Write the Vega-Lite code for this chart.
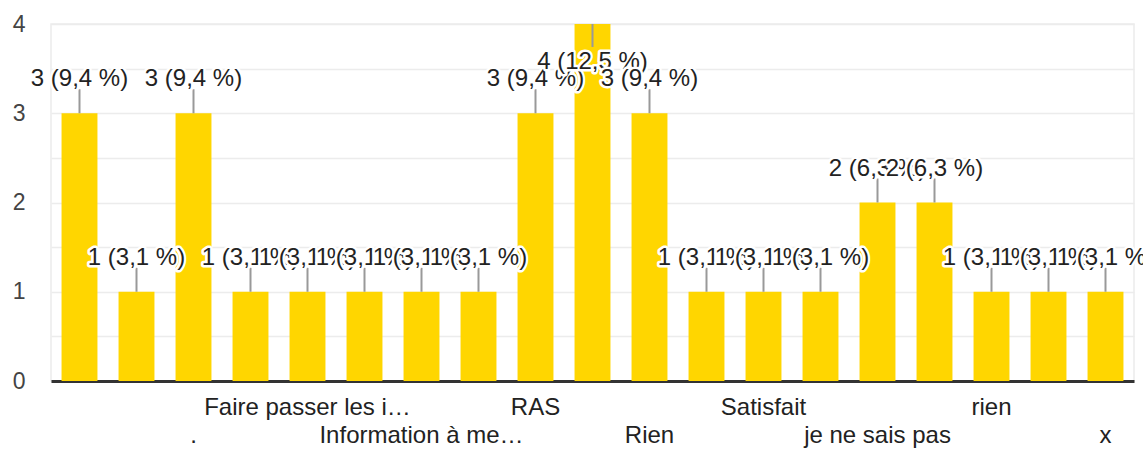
{
  "$schema": "https://vega.github.io/schema/vega-lite/v6.json",
  "width": 1083,
  "height": 357,
  "autosize": {"type": "none"},
  "padding": {"left": 51, "top": 24, "right": 9, "bottom": 74},
  "config": {
    "view": {"stroke": "#ebebeb", "strokeWidth": 1.5},
    "font": "Liberation Sans"
  },
  "data": {
    "values": [
      {"n": 1, "answer": "", "value": 3, "annot": "3 (9,4 %)"},
      {"n": 2, "answer": "", "value": 1, "annot": "1 (3,1 %)"},
      {"n": 3, "answer": ".", "value": 3, "annot": "3 (9,4 %)"},
      {"n": 4, "answer": "", "value": 1, "annot": "1 (3,1 %)"},
      {"n": 5, "answer": "Faire passer les i…", "value": 1, "annot": "1 (3,1 %)"},
      {"n": 6, "answer": "", "value": 1, "annot": "1 (3,1 %)"},
      {"n": 7, "answer": "Information à me…", "value": 1, "annot": "1 (3,1 %)"},
      {"n": 8, "answer": "", "value": 1, "annot": "1 (3,1 %)"},
      {"n": 9, "answer": "RAS", "value": 3, "annot": "3 (9,4 %)"},
      {"n": 10, "answer": "", "value": 4, "annot": "4 (12,5 %)"},
      {"n": 11, "answer": "Rien", "value": 3, "annot": "3 (9,4 %)"},
      {"n": 12, "answer": "", "value": 1, "annot": "1 (3,1 %)"},
      {"n": 13, "answer": "Satisfait", "value": 1, "annot": "1 (3,1 %)"},
      {"n": 14, "answer": "", "value": 1, "annot": "1 (3,1 %)"},
      {"n": 15, "answer": "je ne sais pas", "value": 2, "annot": "2 (6,3 %)"},
      {"n": 16, "answer": "", "value": 2, "annot": "2 (6,3 %)"},
      {"n": 17, "answer": "rien", "value": 1, "annot": "1 (3,1 %)"},
      {"n": 18, "answer": "", "value": 1, "annot": "1 (3,1 %)"},
      {"n": 19, "answer": "x", "value": 1, "annot": "1 (3,1 %)"}
    ]
  },
  "encoding": {
    "x": {
      "field": "n",
      "type": "ordinal",
      "scale": {"paddingInner": 0.37, "paddingOuter": 0.185},
      "axis": {"title": null, "labels": false, "ticks": false, "domain": true, "domainColor": "#333333", "domainWidth": 3, "grid": false}
    }
  },
  "layer": [
    {
      "mark": {"type": "bar", "color": "#FFD600"},
      "encoding": {
        "y": {
          "field": "value",
          "type": "quantitative",
          "scale": {"domain": [0, 4], "nice": false},
          "axis": {
            "title": null,
            "values": [0, 0.5, 1, 1.5, 2, 2.5, 3, 3.5, 4],
            "labelExpr": "datum.value % 1 === 0 ? format(datum.value, 'd') : ''",
            "labelFontSize": 23,
            "labelColor": "#444444",
            "labelPadding": 26,
            "ticks": false,
            "domain": false,
            "gridColor": "#ececec",
            "gridWidth": 1.5
          }
        }
      }
    },
    {
      "transform": [{"filter": "datum.value < 4"}],
      "mark": {"type": "rule", "color": "#999999", "strokeWidth": 2, "y2Offset": -24},
      "encoding": {
        "y": {"field": "value", "type": "quantitative"},
        "y2": {"field": "value"}
      }
    },
    {
      "transform": [{"filter": "datum.value >= 4"}],
      "mark": {"type": "rule", "color": "#999999", "strokeWidth": 2, "y2Offset": 23},
      "encoding": {
        "y": {"field": "value", "type": "quantitative"},
        "y2": {"field": "value"}
      }
    },
    {
      "transform": [{"fold": ["annot", "answer"], "as": ["kind", "unused"]}],
      "mark": {"type": "text", "fontSize": 24, "baseline": "alphabetic", "stroke": "#ffffff", "strokeJoin": "round", "dy": {"expr": "datum.value >= 4 ? 45 : -27"}},
      "encoding": {
        "y": {"field": "value", "type": "quantitative"},
        "text": {"field": "annot"},
        "color": {"condition": {"test": "datum.kind === 'annot'", "value": "#ffffff"}, "value": "#222222"},
        "strokeWidth": {"condition": {"test": "datum.kind === 'annot'", "value": 5}, "value": 0}
      }
    },
    {
      "transform": [{"filter": "datum.n % 4 == 1"}],
      "mark": {"type": "text", "fontSize": 24, "baseline": "alphabetic", "dy": 34, "color": "#222222"},
      "encoding": {
        "y": {"datum": 0, "type": "quantitative"},
        "text": {"field": "answer"}
      }
    },
    {
      "transform": [{"filter": "datum.n % 4 == 3"}],
      "mark": {"type": "text", "fontSize": 24, "baseline": "alphabetic", "dy": 62, "color": "#222222"},
      "encoding": {
        "y": {"datum": 0, "type": "quantitative"},
        "text": {"field": "answer"}
      }
    }
  ]
}
